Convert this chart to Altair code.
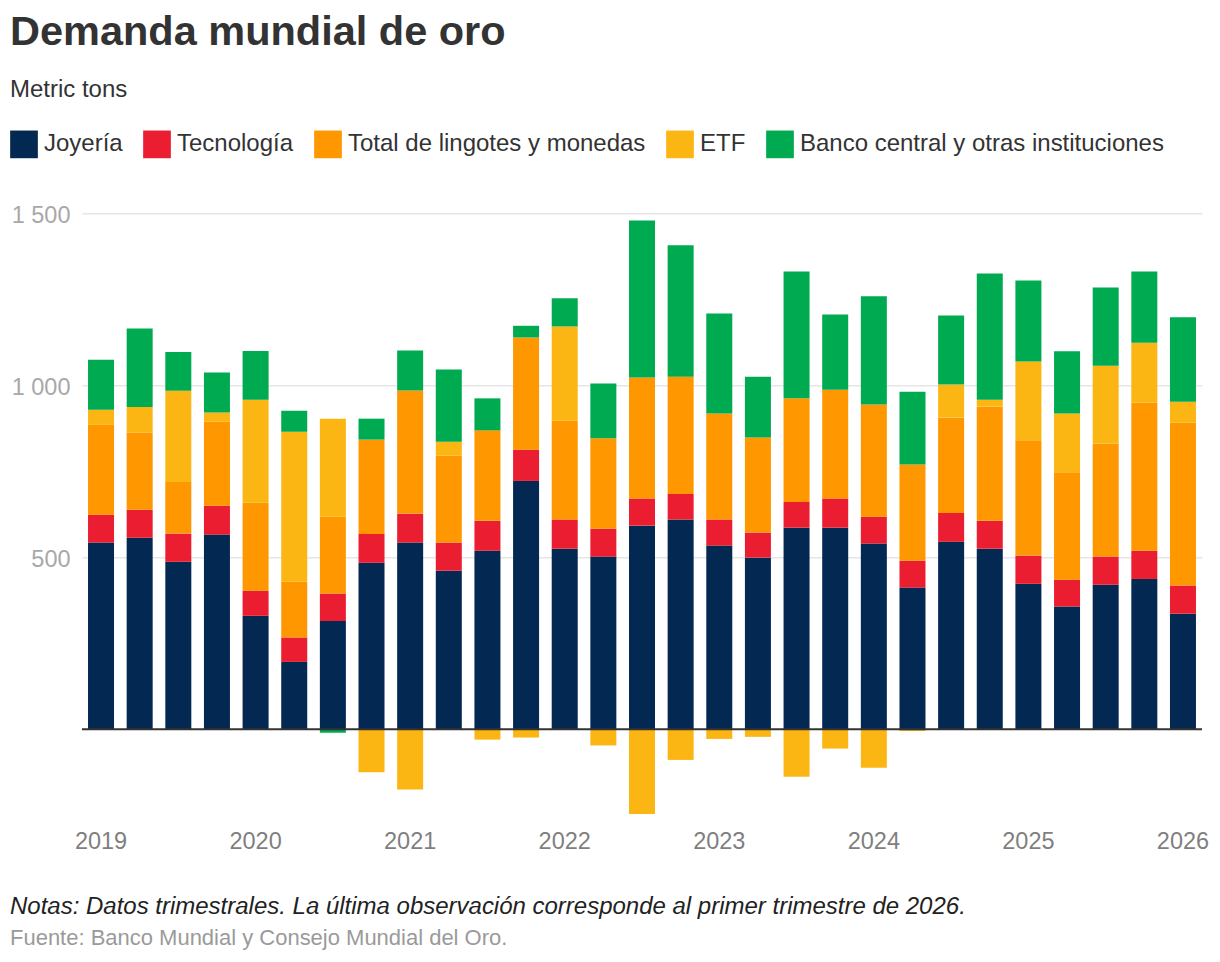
import altair as alt
import pandas as pd

# ---------------- data (metric tons, quarterly) ----------------
years = list(range(2019, 2027))
quarters = [f"{y}T{q}" for y in range(2019, 2026) for q in range(1, 5)] + ["2026T1"]

joyeria = [543, 557, 487, 566, 330, 196, 315, 484, 543, 461, 519, 722, 525, 502, 592,
           610, 534, 499, 586, 586, 540, 412, 545, 525, 423, 357, 420, 437, 336]
tecnologia = [81, 81, 82, 84, 73, 71, 80, 84, 84, 82, 87, 91, 85, 81, 79,
              74, 76, 73, 75, 85, 78, 78, 84, 81, 82, 78, 82, 82, 82]
lingotes = [261, 225, 150, 244, 256, 162, 223, 274, 358, 253, 263, 326, 287, 263, 352,
            341, 308, 276, 301, 316, 326, 280, 277, 332, 335, 312, 329, 431, 474]
etf = [44, 74, 265, 27, 299, 436, 285, -125, -175, 40, -30, -24, 274, -47, -246,
       -89, -28, -22, -138, -56, -112, -5, 96, 20, 229, 171, 226, 174, 60]
banco = [145, 228, 113, 116, 142, 61, -10, 61, 116, 210, 93, 34, 82, 159, 456,
         382, 291, 177, 369, 219, 315, 211, 201, 367, 236, 181, 227, 207, 246]

series = ["Joyería", "Tecnología", "Total de lingotes y monedas", "ETF",
          "Banco central y otras instituciones"]
colors = ["#032852", "#eb1d30", "#fe9700", "#fbb614", "#00aa51"]

title_text = "Demanda mundial de oro"
subtitle_text = "Metric tons"
note_text = "Notas: Datos trimestrales. La última observación corresponde al primer trimestre de 2026."
source_text = "Fuente: Banco Mundial y Consejo Mundial del Oro."

FONT = "Liberation Sans"

rows = []
for i, q in enumerate(quarters):
    for k, (name, vals) in enumerate(zip(series, [joyeria, tecnologia, lingotes, etf, banco])):
        rows.append({"q": q, "serie": name, "v": vals[i], "orden": k})
df = pd.DataFrame(rows)

q1_values = [f"{y}T1" for y in years]

bars = alt.Chart(df).mark_bar().encode(
    x=alt.X("q:O", sort=quarters, title=None,
            scale=alt.Scale(paddingInner=0.327, paddingOuter=0.156),
            axis=alt.Axis(values=q1_values, labelExpr="substring(datum.value, 0, 4)",
                          labelAngle=0, domain=False, ticks=False, tickSize=0,
                          labelPadding=14, labelFont=FONT, labelFontSize=23.5,
                          labelColor="#7f7f7f", grid=False)),
    y=alt.Y("v:Q", stack="zero", title=None,
            scale=alt.Scale(domain=[-250, 1500], nice=False, zero=False),
            axis=alt.Axis(values=[500, 1000, 1500],
                          labelExpr="replace(format(datum.value, ','), ',', ' ')",
                          domain=False, ticks=False, tickSize=0, labelPadding=12,
                          labelOffset=2, labelFont=FONT, labelFontSize=23.5,
                          labelColor="#a8a8a8", grid=True, gridColor="#e6e6e6",
                          gridWidth=1.6)),
    color=alt.Color("serie:N", sort=series,
                    scale=alt.Scale(domain=series, range=colors),
                    legend=alt.Legend(title=None, orient="none", legendX=-72, legendY=-83,
                                      direction="horizontal", columns=5, padding=0,
                                      symbolType="square", symbolSize=767,
                                      symbolStrokeWidth=0, symbolOpacity=1,
                                      labelFont=FONT, labelFontSize=24, labelColor="#333333",
                                      labelOffset=6, labelLimit=0, columnPadding=20)),
    order=alt.Order("orden:Q", sort="ascending"),
)

zero = alt.Chart(pd.DataFrame({"y": [0]})).mark_rule(color="#333333", strokeWidth=2).encode(
    y=alt.Y("y:Q", title=None)
)


def label(text, x, y, size, color, weight="normal", style="normal"):
    return alt.Chart(pd.DataFrame({"t": [text]})).mark_text(
        align="left", baseline="alphabetic", font=FONT, fontSize=size,
        fontWeight=weight, fontStyle=style, color=color
    ).encode(x=alt.value(x), y=alt.value(y), text="t:N")


title = label(title_text, -72, -168, 41.5, "#333333", weight="bold")
subtitle = label(subtitle_text, -72, -116.5, 24, "#333333")
note = label(note_text, -72, 700.7, 24, "#222222", style="italic")
source = label(source_text, -72, 731.7, 22, "#9a9a9a")

chart = alt.layer(bars, zero, title, subtitle, note, source).properties(
    width=1120, height=602,
    autosize=alt.AutoSizeParams(type="none"),
    padding={"left": 74, "top": 205.3, "right": 10, "bottom": 139},
).configure(background="white").configure_view(stroke=None)

chart.save("out.html", embed_options={"renderer": "svg", "actions": False})
